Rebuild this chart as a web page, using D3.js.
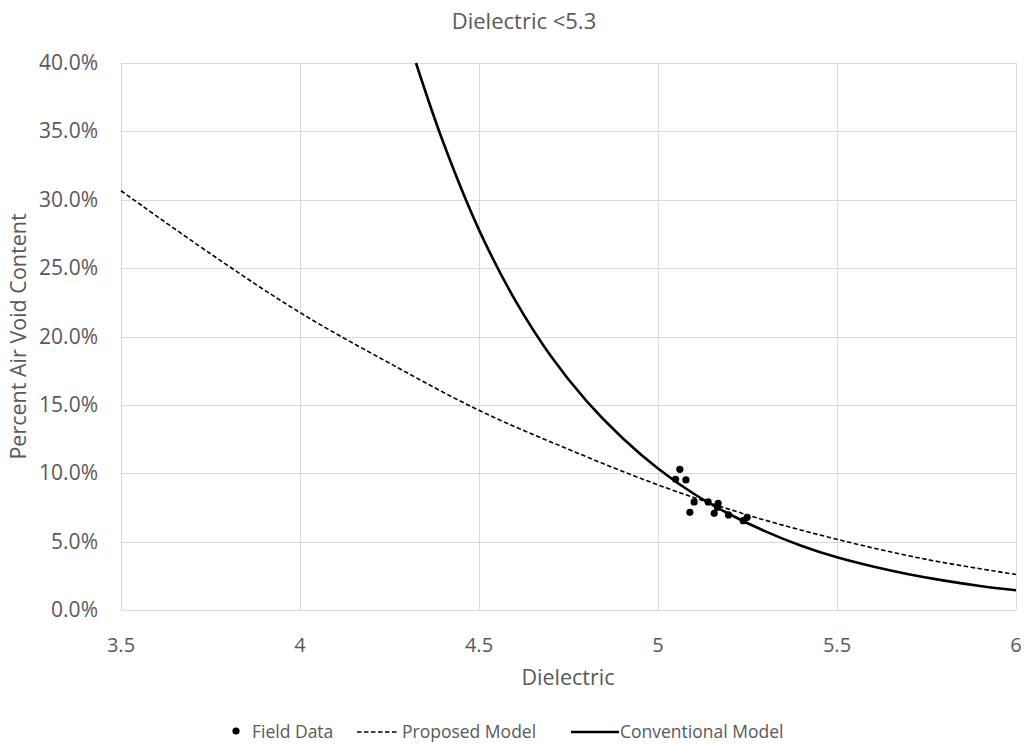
<!DOCTYPE html>
<html>
<head>
<meta charset="utf-8">
<script src="https://cdn.jsdelivr.net/npm/d3@7"></script>
<style>
  body { margin: 0; background: #fff; }
  text { font-family: "Open Sans", sans-serif; fill: #595959; }
</style>
</head>
<body>
<div id="chart"></div>
<script>
// Field data points (dielectric, air void %)
const fieldX = [5.061, 5.049, 5.078, 5.101, 5.089, 5.140, 5.168, 5.166, 5.157, 5.197, 5.238, 5.249];
const fieldY = [10.29, 9.56, 9.51, 7.90, 7.14, 7.90, 7.80, 7.51, 7.07, 6.95, 6.53, 6.78];

// Proposed model curve
const proposedX = [3.5, 3.75, 4.0, 4.25, 4.5, 4.75, 5.0, 5.25, 5.5, 5.75, 6.0];
const proposedY = [30.66, 26.05, 21.75, 18.05, 14.6, 11.75, 9.15, 6.95, 5.17, 3.7, 2.6];

// Conventional model curve
const conventionalX = [4.324, 4.4, 4.5, 4.6, 4.7, 4.8, 4.9, 5.0, 5.1, 5.2, 5.3, 5.4, 5.5, 5.6, 5.7, 5.8, 5.9, 6.0];
const conventionalY = [40.0, 34.2, 27.8, 22.7, 18.6, 15.3, 12.6, 10.35, 8.5, 7.0, 5.75, 4.7, 3.85, 3.18, 2.62, 2.15, 1.76, 1.44];

const xTicks = [3.5, 4, 4.5, 5, 5.5, 6];
const yTicks = [0, 5, 10, 15, 20, 25, 30, 35, 40];

const width = 1027, height = 745;
const margin = { top: 63, right: 11, bottom: 135, left: 121 };

const svg = d3.select("#chart").append("svg")
    .attr("width", width)
    .attr("height", height);

const x = d3.scaleLinear().domain([3.5, 6]).range([margin.left, width - margin.right]);
const y = d3.scaleLinear().domain([0, 40]).range([height - margin.bottom, margin.top]);

// gridlines
svg.append("g")
    .selectAll("line")
    .data(yTicks)
    .join("line")
    .attr("x1", x(3.5)).attr("x2", x(6))
    .attr("y1", d => Math.round(y(d)) + 0.5).attr("y2", d => Math.round(y(d)) + 0.5)
    .attr("stroke", "#d9d9d9");

svg.append("g")
    .selectAll("line")
    .data(xTicks)
    .join("line")
    .attr("y1", y(0)).attr("y2", y(40))
    .attr("x1", d => Math.round(x(d)) + 0.5).attr("x2", d => Math.round(x(d)) + 0.5)
    .attr("stroke", "#d9d9d9");

// tick labels
svg.append("g")
    .selectAll("text")
    .data(yTicks)
    .join("text")
    .attr("x", x(3.5) - 23)
    .attr("y", d => y(d) + 7)
    .attr("text-anchor", "end")
    .attr("font-size", 21)
    .text(d => d.toFixed(1) + "%");

svg.append("g")
    .selectAll("text")
    .data(xTicks)
    .join("text")
    .attr("x", d => x(d))
    .attr("y", y(0) + 42)
    .attr("text-anchor", "middle")
    .attr("font-size", 20)
    .text(d => d);

// title and axis titles
svg.append("text")
    .attr("x", 524).attr("y", 29)
    .attr("text-anchor", "middle")
    .attr("font-size", 22)
    .text("Dielectric <5.3");

svg.append("text")
    .attr("x", 568).attr("y", 685)
    .attr("text-anchor", "middle")
    .attr("font-size", 21.5)
    .text("Dielectric");

svg.append("text")
    .attr("transform", "translate(26," + (y(20)) + ") rotate(-90)")
    .attr("text-anchor", "middle")
    .attr("font-size", 21.5)
    .text("Percent Air Void Content");

// curves
const line = d3.line()
    .x(d => x(d[0]))
    .y(d => y(d[1]))
    .curve(d3.curveCatmullRom);

svg.append("path")
    .datum(proposedX.map((v, i) => [v, proposedY[i]]))
    .attr("d", line)
    .attr("fill", "none")
    .attr("stroke", "#000")
    .attr("stroke-width", 1.6)
    .attr("stroke-dasharray", "4.5,2.5");

svg.append("path")
    .datum(conventionalX.map((v, i) => [v, conventionalY[i]]))
    .attr("d", line)
    .attr("fill", "none")
    .attr("stroke", "#000")
    .attr("stroke-width", 2.6);

svg.append("g")
    .selectAll("circle")
    .data(fieldX.map((v, i) => [v, fieldY[i]]))
    .join("circle")
    .attr("cx", d => x(d[0]))
    .attr("cy", d => y(d[1]))
    .attr("r", 3.6)
    .attr("fill", "#000");

// legend
const ly = 732;
const legend = svg.append("g");
legend.append("circle").attr("cx", 236).attr("cy", ly - 1).attr("r", 3.6).attr("fill", "#000");
legend.append("text").attr("x", 252).attr("y", ly + 6).attr("font-size", 17.5).text("Field Data");
legend.append("line").attr("x1", 357).attr("x2", 399).attr("y1", ly).attr("y2", ly)
    .attr("stroke", "#000").attr("stroke-width", 1.6).attr("stroke-dasharray", "4.5,2.5");
legend.append("text").attr("x", 402).attr("y", ly + 6).attr("font-size", 17.5).text("Proposed Model");
legend.append("line").attr("x1", 571).attr("x2", 619).attr("y1", ly).attr("y2", ly)
    .attr("stroke", "#000").attr("stroke-width", 2.6);
legend.append("text").attr("x", 620).attr("y", ly + 6).attr("font-size", 17.5).text("Conventional Model");
</script>
</body>
</html>
